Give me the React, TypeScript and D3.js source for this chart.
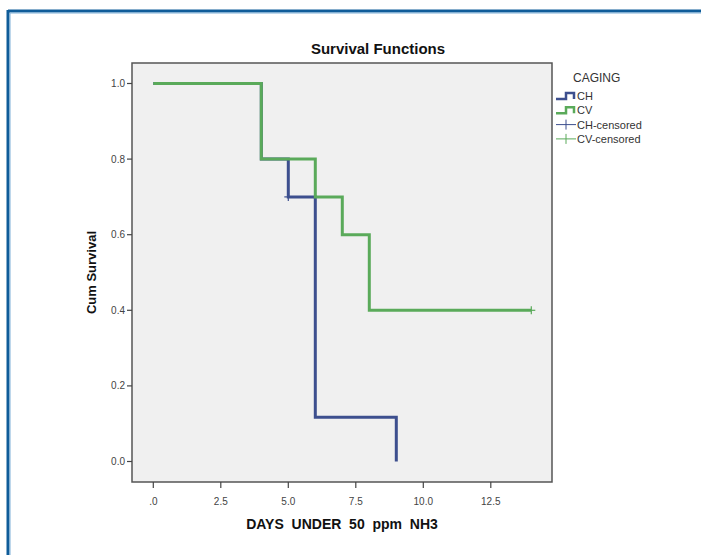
import React from "react";
import * as d3 from "d3";

const chTimes = [0, 4, 5, 6, 9];
const chSurv = [1.0, 0.8, 0.7, 0.117, 0.0];
const chEnd = 9;
const cvTimes = [0, 4, 6, 7, 8];
const cvSurv = [1.0, 0.8, 0.7, 0.6, 0.4];
const cvEnd = 14;
const chCensored = [{ t: 5, s: 0.7 }];
const cvCensored = [{ t: 14, s: 0.4 }];
const xTicks = [0, 2.5, 5, 7.5, 10, 12.5];
const xTickLabels = [".0", "2.5", "5.0", "7.5", "10.0", "12.5"];
const yTicks = [0, 0.2, 0.4, 0.6, 0.8, 1.0];
const legendItems = ["CH", "CV", "CH-censored", "CV-censored"];

const CH_COLOR = "#3d4f8e";
const CV_COLOR = "#5aaa5a";

export default function App() {
  const W = 701, H = 555;
  const plot = { l: 132, r: 552, t: 63, b: 482 };
  const x = d3.scaleLinear().domain([0, 2.5]).range([153.3, 220.8]);
  const y = d3.scaleLinear().domain([0, 1]).range([461.5, 83.5]);

  const stepPath = (times: number[], surv: number[], end: number) => {
    const pts: [number, number][] = times.map((t, i) => [t, surv[i]]);
    pts.push([end, surv[surv.length - 1]]);
    const line = d3.line<[number, number]>().x(d => x(d[0])).y(d => y(d[1])).curve(d3.curveStepAfter);
    return line(pts) || "";
  };
  // CH ends with a drop to 0 at its final time
  const chPath = stepPath(chTimes, chSurv, chEnd);

  const censor = (pts: { t: number; s: number }[], color: string) =>
    pts.map((p, i) => (
      <g key={i} stroke={color} strokeWidth={1.2}>
        <line x1={x(p.t) - 4} x2={x(p.t) + 4} y1={y(p.s)} y2={y(p.s)} />
        <line x1={x(p.t)} x2={x(p.t)} y1={y(p.s) - 4} y2={y(p.s) + 4} />
      </g>
    ));

  const font = "Arial, 'Liberation Sans', sans-serif";

  return (
    <svg width={W} height={H} style={{ position: "absolute", left: 0, top: 0 }} fontFamily={font}>
      <rect x={0} y={0} width={W} height={H} fill="#fff" />
      {/* frame */}
      <line x1={8} x2={W} y1={11} y2={11} stroke="#0f5c99" strokeWidth={3} />
      <line x1={8} x2={8} y1={10} y2={H} stroke="#0f5c99" strokeWidth={3} />
      <line x1={10} x2={W} y1={13} y2={13} stroke="#7fb0d8" strokeWidth={1} />
      <line x1={10} x2={10} y1={13} y2={H} stroke="#7fb0d8" strokeWidth={1} />

      <text x={378} y={54} textAnchor="middle" fontSize={15} fontWeight="bold" fill="#111">Survival Functions</text>

      <rect x={plot.l} y={plot.t} width={plot.r - plot.l} height={plot.b - plot.t} fill="#f0f0f0" stroke="#555" strokeWidth={1.5} />

      {/* y axis ticks */}
      {yTicks.map((v, i) => (
        <g key={i}>
          <line x1={plot.l - 5} x2={plot.l} y1={y(v)} y2={y(v)} stroke="#444" strokeWidth={1.2} />
          <text x={plot.l - 7} y={y(v) + 3.5} textAnchor="end" fontSize={10} fill="#444">{v.toFixed(1)}</text>
        </g>
      ))}
      {/* x axis ticks */}
      {xTicks.map((v, i) => (
        <g key={i}>
          <line x1={x(v)} x2={x(v)} y1={plot.b} y2={plot.b + 6} stroke="#444" strokeWidth={1.2} />
          <text x={x(v)} y={plot.b + 23} textAnchor="middle" fontSize={10} fill="#444">{xTickLabels[i]}</text>
        </g>
      ))}

      <text transform={`translate(96,${(plot.t + plot.b) / 2}) rotate(-90)`} textAnchor="middle" fontSize={13} fontWeight="bold" fill="#111">Cum Survival</text>
      <text x={(plot.l + plot.r) / 2} y={529} textAnchor="middle" fontSize={14} fontWeight="bold" fill="#111" style={{ whiteSpace: "pre" }}>{"DAYS  UNDER  50  ppm  NH3"}</text>

      {/* curves */}
      <path d={chPath + `L${x(chEnd)},${y(0)}`} fill="none" stroke={CH_COLOR} strokeWidth={3} />
      <path d={stepPath(cvTimes, cvSurv, cvEnd)} fill="none" stroke={CV_COLOR} strokeWidth={3} />
      {censor(chCensored, CH_COLOR)}
      {censor(cvCensored, CV_COLOR)}

      {/* legend */}
      <text x={573} y={82} fontSize={12} fill="#333">CAGING</text>
      {legendItems.map((name, i) => {
        const ly = 96 + i * 14.3;
        const color = i % 2 === 0 ? CH_COLOR : CV_COLOR;
        return (
          <g key={name}>
            {i < 2 ? (
              <path d={`M556,${ly + 3}H566V${ly - 3}H574V${ly + 3}`} fill="none" stroke={color} strokeWidth={2.5} />
            ) : (
              <g stroke={color} strokeWidth={1}>
                <line x1={556} x2={576} y1={ly} y2={ly} />
                <line x1={566} x2={566} y1={ly - 5} y2={ly + 5} />
              </g>
            )}
            <text x={577} y={ly + 4} fontSize={11} fill="#333">{name}</text>
          </g>
        );
      })}
    </svg>
  );
}
